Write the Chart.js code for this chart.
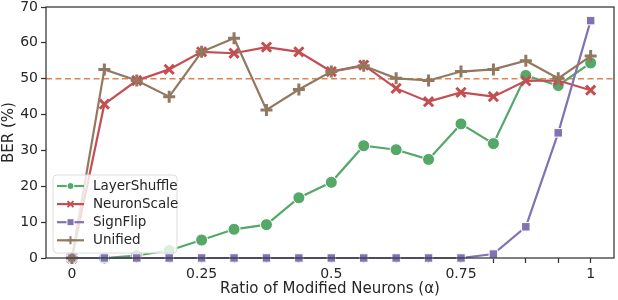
<!DOCTYPE html>
<html lang="en">
<head>
  <meta charset="UTF-8">
  <title>BER vs ratio of modified neurons</title>
  <script src="https://cdn.jsdelivr.net/npm/chart.js"></script>
  <style>
    html, body { margin: 0; padding: 0; background: #fff; }
    #wrap { width: 618px; height: 300px; }
  </style>
</head>
<body>
<div id="wrap"><canvas id="berChart" width="618" height="300"></canvas></div>
<script>
  // x positions (ratio alpha), one point every 1/16
  const alpha = [0, 0.0625, 0.125, 0.1875, 0.25, 0.3125, 0.375, 0.4375, 0.5,
                 0.5625, 0.625, 0.6875, 0.75, 0.8125, 0.875, 0.9375, 1];
  const xLabels = [0, 0.25, 0.5, 0.75, 1];

  const layerShuffle = [0, 0, 0.7, 2.1, 5.0, 8.0, 9.3, 16.8, 21.1, 31.3, 30.2, 27.5, 37.4, 31.9, 50.9, 48.1, 54.4];
  const neuronScale  = [0, 42.9, 49.5, 52.6, 57.5, 57.1, 58.8, 57.5, 52.0, 53.8, 47.3, 43.6, 46.2, 45.0, 49.4, 49.5, 46.8];
  const signFlip     = [0, 0, 0, 0, 0, 0, 0, 0, 0, 0, 0, 0, 0, 1.1, 8.7, 34.9, 66.2];
  const unified      = [0, 52.6, 49.5, 45.0, 57.5, 61.3, 41.3, 47.0, 52.0, 53.6, 50.1, 49.5, 52.0, 52.6, 55.0, 50.1, 56.3];

  const refLine = 50;   // dashed 50% line
  const yTicks = [0, 10, 20, 30, 40, 50, 60, 70];

  const FONT = 'DejaVu Sans';
  const TXT = '#262626';
  const SPINE = '#333333';

  const series = [
    { label: 'LayerShuffle', data: layerShuffle, color: '#55a868', style: 'circle',   r: 6,   order: 4 },
    { label: 'NeuronScale',  data: neuronScale,  color: '#c44e52', style: 'crossRot', r: 6.5, order: 3 },
    { label: 'SignFlip',     data: signFlip,     color: '#8172b3', style: 'rect',     r: 6,   order: 2 },
    { label: 'Unified',      data: unified,      color: '#937860', style: 'cross',    r: 6,   order: 1 }
  ];

  function isCross(s) { return s.style === 'cross' || s.style === 'crossRot'; }

  const datasets = series.map(s => ({
    label: s.label,
    data: alpha.map((x, i) => ({ x: x, y: s.data[i] })),
    borderColor: s.color,
    borderWidth: 2.2,
    backgroundColor: s.color,
    pointStyle: s.style,
    pointRadius: s.r,
    pointBackgroundColor: s.color,
    pointBorderColor: isCross(s) ? s.color : '#ffffff',
    pointBorderWidth: isCross(s) ? 3 : 1,
    tension: 0,
    order: s.order,
    clip: false
  }));

  // frame, reference line and in-plot legend
  const decorations = {
    id: 'decorations',
    beforeDatasetsDraw(chart) {
      const ctx = chart.ctx;
      const a = chart.chartArea;
      const y = chart.scales.y.getPixelForValue(refLine);
      ctx.save();
      ctx.strokeStyle = '#dd8452';
      ctx.lineWidth = 1.6;
      ctx.setLineDash([6, 3.5]);
      ctx.beginPath();
      ctx.moveTo(a.left, y);
      ctx.lineTo(a.right, y);
      ctx.stroke();
      ctx.restore();
    },
    afterDraw(chart) {
      const ctx = chart.ctx;
      const a = chart.chartArea;
      ctx.save();
      ctx.strokeStyle = SPINE;
      ctx.lineWidth = 1.25;
      ctx.strokeRect(a.left, a.top, a.right - a.left, a.bottom - a.top);

      // legend box
      const bx = 53, by = 175, bw = 124, bh = 78, rad = 4;
      ctx.beginPath();
      ctx.moveTo(bx + rad, by);
      ctx.arcTo(bx + bw, by, bx + bw, by + bh, rad);
      ctx.arcTo(bx + bw, by + bh, bx, by + bh, rad);
      ctx.arcTo(bx, by + bh, bx, by, rad);
      ctx.arcTo(bx, by, bx + bw, by, rad);
      ctx.closePath();
      ctx.fillStyle = 'rgba(255,255,255,0.8)';
      ctx.fill();
      ctx.strokeStyle = '#dddddd';
      ctx.lineWidth = 1;
      ctx.stroke();

      ctx.font = '13.5px "' + FONT + '"';
      ctx.textBaseline = 'middle';
      series.forEach((s, i) => {
        const ly = 186 + i * 18.1;
        ctx.strokeStyle = s.color;
        ctx.lineWidth = 2.2;
        ctx.beginPath();
        ctx.moveTo(57, ly);
        ctx.lineTo(84, ly);
        ctx.stroke();
        ctx.fillStyle = s.color;
        ctx.strokeStyle = isCross(s) ? s.color : '#ffffff';
        ctx.lineWidth = isCross(s) ? 2 : 1;
        ctx.beginPath();
        if (s.style === 'circle') {
          ctx.arc(70.5, ly, 3.5, 0, Math.PI * 2);
          ctx.fill(); ctx.stroke();
        } else if (s.style === 'rect') {
          ctx.rect(67, ly - 3.5, 7, 7);
          ctx.fill(); ctx.stroke();
        } else if (s.style === 'cross') {
          ctx.moveTo(66.5, ly); ctx.lineTo(74.5, ly);
          ctx.moveTo(70.5, ly - 4); ctx.lineTo(70.5, ly + 4);
          ctx.stroke();
        } else {
          ctx.moveTo(67.5, ly - 3); ctx.lineTo(73.5, ly + 3);
          ctx.moveTo(73.5, ly - 3); ctx.lineTo(67.5, ly + 3);
          ctx.stroke();
        }
        ctx.fillStyle = TXT;
        ctx.fillText(s.label, 93, ly + 0.5);
      });
      ctx.restore();
    }
  };

  function noPad(scale) {
    scale.paddingLeft = 0;
    scale.paddingRight = 0;
    scale.paddingTop = 0;
    scale.paddingBottom = 0;
  }

  const ctx = document.getElementById('berChart').getContext('2d');
  const berChart = new Chart(ctx, {
    type: 'line',
    data: { datasets: datasets },
    plugins: [decorations],
    options: {
      responsive: false,
      animation: false,
      layout: { autoPadding: false, padding: { top: 7, right: 4, left: 0, bottom: 0 } },
      plugins: { legend: { display: false }, tooltip: { enabled: false } },
      scales: {
        x: {
          type: 'linear',
          min: -0.05,
          max: 1.045,
          afterBuildTicks: scale => { scale.ticks = alpha.map(v => ({ value: v })); },
          afterFit: scale => { scale.height = 42; noPad(scale); },
          ticks: {
            autoSkip: false,
            maxRotation: 0,
            padding: 3,
            color: TXT,
            font: { family: FONT, size: 14 },
            callback: v => xLabels.includes(v) ? String(v) : ''
          },
          grid: { drawOnChartArea: false, drawTicks: true, tickLength: 5, tickColor: SPINE, tickWidth: 1.25 },
          border: { display: false },
          title: {
            display: true,
            text: 'Ratio of Modified Neurons (α)',
            color: TXT,
            font: { family: FONT, size: 15 },
            padding: { top: 0, bottom: 2 }
          }
        },
        y: {
          min: 0,
          max: 70,
          afterBuildTicks: scale => { scale.ticks = yTicks.map(v => ({ value: v })); },
          afterFit: scale => { scale.width = 46; noPad(scale); },
          ticks: {
            padding: 3,
            color: TXT,
            font: { family: FONT, size: 14 }
          },
          grid: { drawOnChartArea: false, drawTicks: true, tickLength: 5, tickColor: SPINE, tickWidth: 1.25 },
          border: { display: false },
          title: {
            display: true,
            text: 'BER (%)',
            color: TXT,
            font: { family: FONT, size: 15 },
            padding: { top: 0, bottom: 0 }
          }
        }
      }
    }
  });
</script>
</body>
</html>
